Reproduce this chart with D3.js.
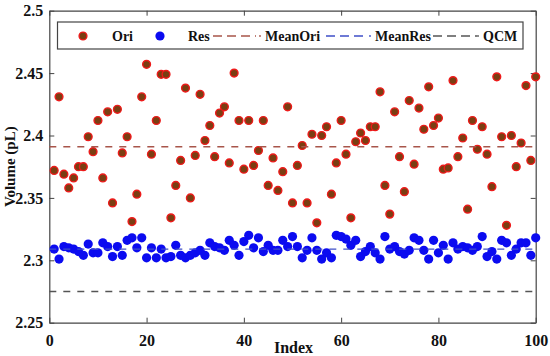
<!DOCTYPE html>
<html><head><meta charset="utf-8">
<script src="https://cdn.jsdelivr.net/npm/d3@7"></script>
<style>
html,body{margin:0;padding:0;background:#fff;}
text{font-family:"Liberation Serif","Times New Roman",serif;font-weight:bold;fill:#111;}
</style></head>
<body><svg id="c" width="550" height="356"></svg>
<script>
const indices = d3.range(1, 101);
const oriValues = [2.372,2.431,2.369,2.358,2.366,2.375,2.375,2.399,2.387,2.412,
2.366,2.419,2.346,2.421,2.386,2.399,2.331,2.353,2.431,2.457,
2.385,2.412,2.449,2.449,2.334,2.360,2.380,2.438,2.350,2.384,
2.433,2.396,2.408,2.383,2.418,2.423,2.378,2.450,2.412,2.373,
2.412,2.376,2.388,2.412,2.360,2.382,2.356,2.371,2.423,2.346,
2.376,2.392,2.346,2.401,2.330,2.400,2.407,2.353,2.378,2.412,
2.385,2.334,2.395,2.402,2.396,2.407,2.407,2.435,2.360,2.337,
2.419,2.383,2.355,2.428,2.377,2.422,2.405,2.439,2.408,2.414,
2.373,2.374,2.444,2.383,2.398,2.341,2.412,2.389,2.407,2.385,
2.359,2.447,2.399,2.328,2.400,2.375,2.394,2.440,2.380,2.447];
const resValues = [2.309,2.301,2.311,2.310,2.309,2.307,2.304,2.313,2.306,2.306,
2.314,2.311,2.303,2.311,2.304,2.316,2.318,2.310,2.318,2.302,
2.310,2.302,2.309,2.302,2.303,2.312,2.304,2.302,2.304,2.306,
2.308,2.304,2.314,2.311,2.310,2.308,2.316,2.312,2.304,2.315,
2.320,2.310,2.318,2.307,2.312,2.308,2.308,2.316,2.311,2.319,
2.311,2.302,2.308,2.318,2.308,2.301,2.306,2.302,2.320,2.319,
2.317,2.312,2.316,2.303,2.307,2.311,2.306,2.301,2.319,2.309,
2.311,2.307,2.305,2.308,2.318,2.316,2.308,2.301,2.316,2.306,
2.312,2.301,2.314,2.309,2.311,2.310,2.308,2.311,2.319,2.303,
2.307,2.301,2.316,2.314,2.304,2.309,2.314,2.314,2.304,2.318];
const meanOri = 2.391, meanRes = 2.309, qcm = 2.275;
const xTicks = [0,20,40,60,80,100];
const yTicks = [2.25,2.3,2.35,2.4,2.45,2.5];
const yTickLabels = ["2.25","2.3","2.35","2.4","2.45","2.5"];

const svg = d3.select("#c");
const L = 49.3, R = 535.7, T = 10.7, B = 322.7;
const x = d3.scaleLinear().domain([0,100]).range([L, R]);
const y = d3.scaleLinear().domain([2.25,2.5]).range([B, T]);
const axisCol = "#444";

const gx = svg.append("g").attr("transform",`translate(0,${B})`)
  .call(d3.axisBottom(x).tickValues(xTicks).tickSizeInner(-5).tickSizeOuter(0).tickPadding(8).tickFormat(d3.format("d")));
const gxt = svg.append("g").attr("transform",`translate(0,${T})`)
  .call(d3.axisTop(x).tickValues(xTicks).tickSizeInner(-5).tickSizeOuter(0).tickFormat(""));
const gy = svg.append("g").attr("transform",`translate(${L},0)`)
  .call(d3.axisLeft(y).tickValues(yTicks).tickSizeInner(-5).tickSizeOuter(0).tickPadding(6).tickFormat((d,i)=>yTickLabels[i]));
const gyr = svg.append("g").attr("transform",`translate(${R},0)`)
  .call(d3.axisRight(y).tickValues(yTicks).tickSizeInner(-5).tickSizeOuter(0).tickFormat(""));
[gx,gxt,gy,gyr].forEach(g=>{
  g.select(".domain").attr("stroke",axisCol).attr("stroke-width",1.2);
  g.selectAll(".tick line").attr("stroke",axisCol).attr("stroke-width",1);
  g.selectAll("text").attr("font-size",16).attr("font-family",'"Liberation Serif","Times New Roman",serif').attr("font-weight","bold").attr("fill","#111");
});
gx.selectAll("text").attr("dy","0.95em");

svg.append("g").selectAll("circle").data(indices).join("circle")
  .attr("cx",(d)=>x(d)).attr("cy",(d,i)=>y(oriValues[i])).attr("r",3.9)
  .attr("fill","#7a3e12").attr("stroke","#ee1a1a").attr("stroke-width",1.4);
svg.append("g").selectAll("circle").data(indices).join("circle")
  .attr("cx",(d)=>x(d)).attr("cy",(d,i)=>y(resValues[i])).attr("r",4.6)
  .attr("fill","#0b0bf0");

const lines = [
  {v:meanOri, c:"#a8554a"},
  {v:meanRes, c:"#3f4fc8"},
  {v:qcm, c:"#555"}
];
svg.append("g").selectAll("line").data(lines).join("line")
  .attr("x1",L).attr("x2",R).attr("y1",d=>y(d.v)).attr("y2",d=>y(d.v))
  .attr("stroke",d=>d.c).attr("stroke-width",1.3).attr("stroke-dasharray","7,7");

const lg = svg.append("g");
lg.append("rect").attr("x",57.5).attr("y",22).attr("width",465.5).attr("height",27)
  .attr("fill","#fff").attr("stroke",axisCol).attr("stroke-width",1.2);
const ly = 36;
lg.append("circle").attr("cx",83).attr("cy",ly).attr("r",3.9).attr("fill","#7a3e12").attr("stroke","#ee1a1a").attr("stroke-width",1.4);
lg.append("circle").attr("cx",160).attr("cy",ly).attr("r",4.6).attr("fill","#0b0bf0");
const legItems = [
  {t:"Ori", tx:112},
  {t:"Res", tx:188},
  {t:"MeanOri", tx:265, x1:213, x2:256, c:"#a8554a"},
  {t:"MeanRes", tx:375, x1:326, x2:368, c:"#3f4fc8"},
  {t:"QCM", tx:483, x1:433, x2:477, c:"#555"}
];
legItems.forEach(d=>{
  if (d.x1!==undefined){
    lg.append("line").attr("x1",d.x1).attr("x2",d.x2).attr("y1",ly).attr("y2",ly)
      .attr("stroke",d.c).attr("stroke-width",1.3).attr("stroke-dasharray","9,5");
    lg.append("circle").attr("cx",d.tx-5).attr("cy",ly).attr("r",0.9).attr("fill",d.c);
  }
  lg.append("text").attr("x",d.tx).attr("y",ly+5).attr("font-size",14).text(d.t);
});

svg.append("text").attr("x",(L+R)/2+1).attr("y",353).attr("text-anchor","middle").attr("font-size",16).text("Index");
svg.append("text").attr("transform",`translate(15,${(T+B)/2}) rotate(-90)`).attr("text-anchor","middle").attr("font-size",15).text("Volume (pL)");
</script></body></html>
